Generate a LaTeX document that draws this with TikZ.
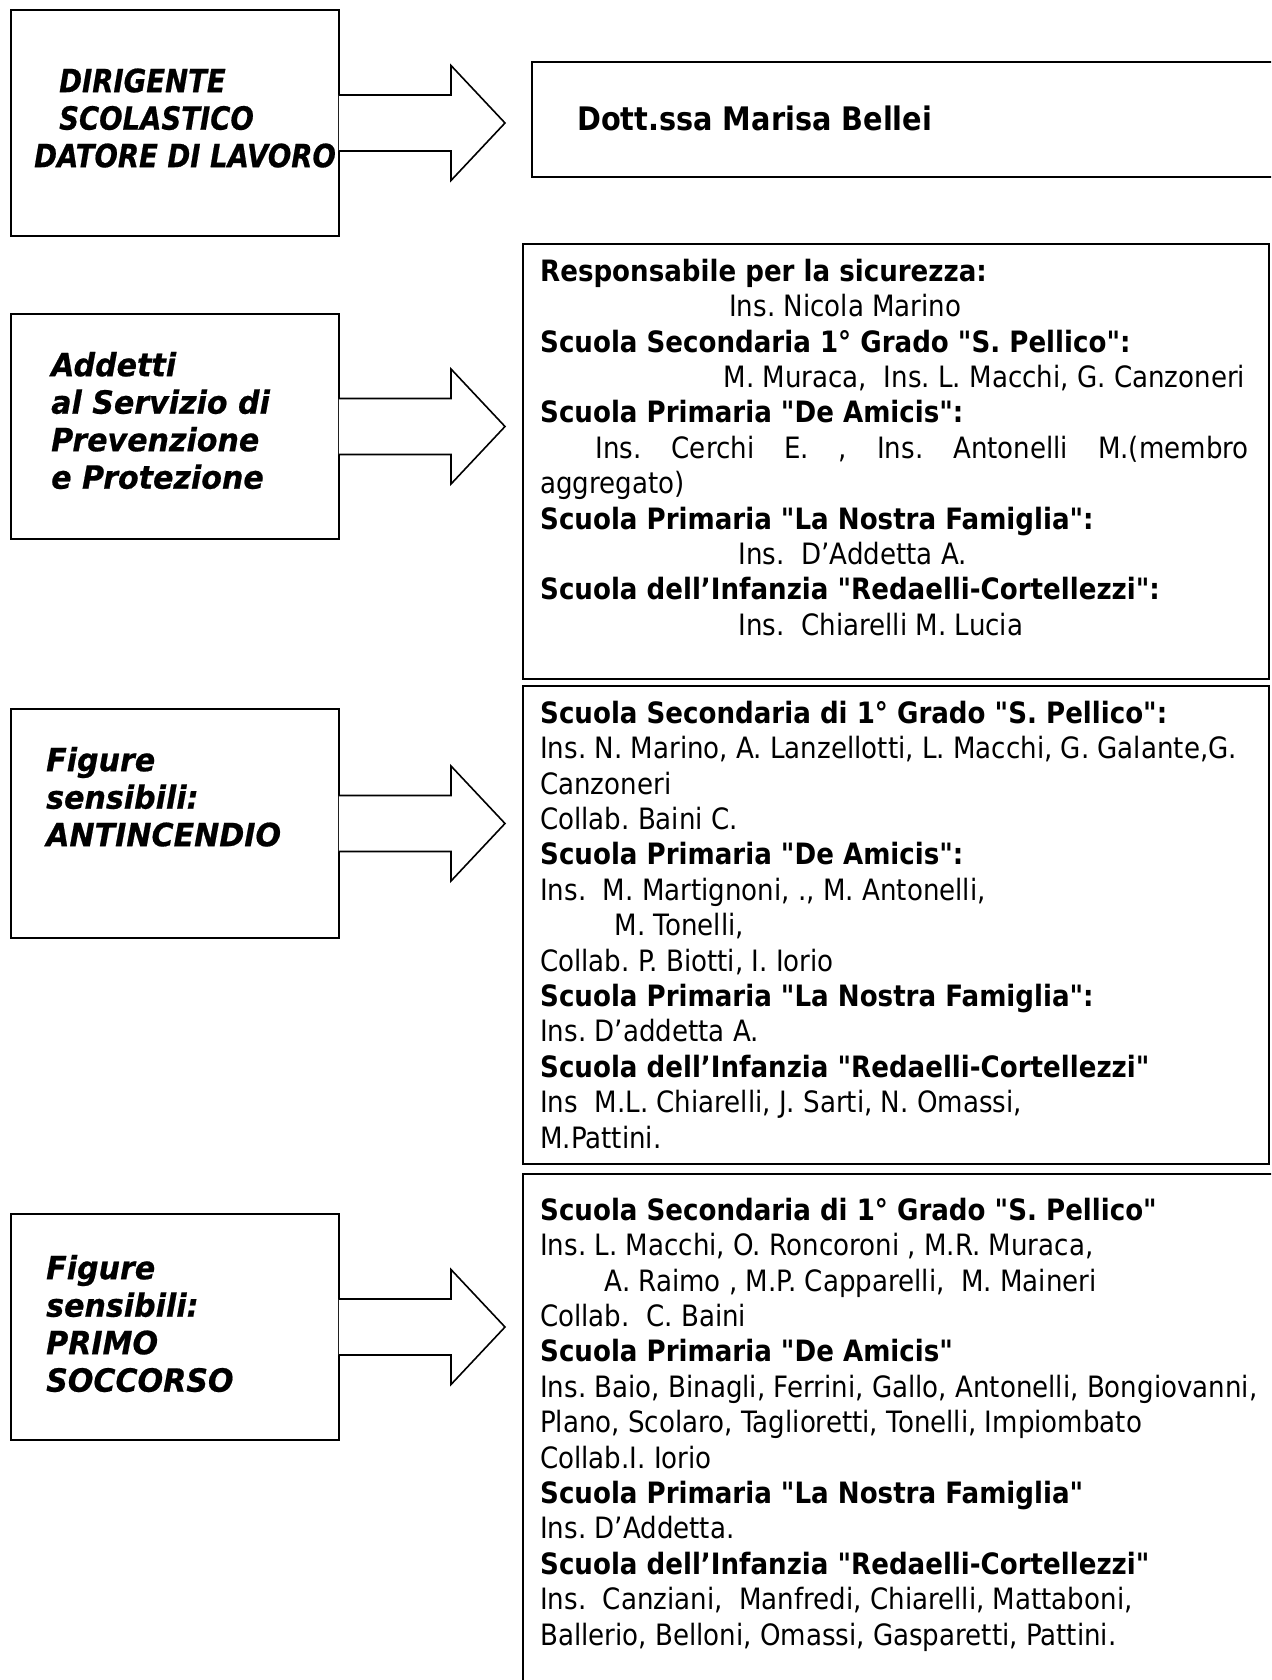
\documentclass[tikz,border=0pt]{standalone}
\usepackage{fontspec}
\setmainfont{DejaVu Sans}[FakeStretch=0.888, Ligatures=TeXOff]
\newfontfamily\leftfamA{DejaVu Sans}[FakeStretch=0.86, Ligatures=TeXOff, BoldItalicFeatures={FakeBold=0.6}]
\newfontfamily\leftfamB{DejaVu Sans}[FakeStretch=0.94, Ligatures=TeXOff, BoldItalicFeatures={FakeBold=0.6}]
\usetikzlibrary{calc}
\newcommand{\bodysize}{\fontsize{29.4pt}{35.4pt}\selectfont\frenchspacing}
\newcommand{\bigsizeA}{\leftfamA\fontsize{32pt}{37.5pt}\selectfont\bfseries\itshape}
\newcommand{\bigsizeB}{\leftfamB\fontsize{32pt}{37.5pt}\selectfont\bfseries\itshape}
\newcommand{\dottsize}{\fontsize{32.4pt}{38pt}\selectfont\bfseries}
\begin{document}
\begin{tikzpicture}[x=1pt,y=-1pt,
  frame/.style={draw, line width=2pt, rectangle, anchor=north west, inner sep=0pt},
  rframe/.style={frame, line width=2.4pt},
  blockarrow/.style={draw, line width=1.6pt, fill=white, line join=miter},
  lefttext/.style={anchor=north west, inner sep=0pt, align=left, font=\bigsizeB},
  bodytext/.style={anchor=north west, inner sep=0pt, align=left, font=\bodysize}]
\path[use as bounding box] (0,0) rectangle (1271,1680);
\fill[white] (0,0) rectangle (1271,1680);
\clip (0,0) rectangle (1271,1680);

% left boxes
\node[frame, minimum width=328pt, minimum height=226pt] (b1) at (10,9) {};
\node[frame, minimum width=328pt, minimum height=225pt] (b2) at (10,313) {};
\node[frame, minimum width=328pt, minimum height=229pt] (b3) at (10,708) {};
\node[frame, minimum width=328pt, minimum height=226pt] (b4) at (10,1213) {};

% right boxes
\node[rframe, minimum width=760pt, minimum height=115pt] (d) at (531,61) {};
\node[rframe, minimum width=746pt, minimum height=435pt] (r1) at (522,243) {};
\node[rframe, minimum width=746pt, minimum height=478pt] (r2) at (522,685) {};
\node[rframe, minimum width=780pt, minimum height=540pt] (r3) at (522,1173) {};

% block arrows
\foreach \b in {b1,b2,b3,b4}{
  \draw[blockarrow] ($(\b.east)+(-1.2,-28)$) -- ($(\b.east)+(111,-28)$)
    -- ($(\b.east)+(111,-57.5)$) -- ($(\b.east)+(165,0)$)
    -- ($(\b.east)+(111,57.5)$) -- ($(\b.east)+(111,28)$)
    -- ($(\b.east)+(-1.2,28)$);
}

% left texts
\node[lefttext, font=\bigsizeA] (t1) at (34,65) {\rule{0pt}{27pt}\hspace*{25pt}DIRIGENTE\\\hspace*{25pt}SCOLASTICO\\DATORE DI LAVORO};
\node[lefttext] (t2) at (51,349) {\rule{0pt}{27pt}Addetti\\al Servizio di\\Prevenzione\\e Protezione};
\node[lefttext] (t3) at (46,744) {\rule{0pt}{27pt}Figure\\sensibili:\\ANTINCENDIO};
\node[lefttext] (t4) at (46,1252) {\rule{0pt}{27pt}Figure\\sensibili:\\PRIMO\\SOCCORSO};

% right texts
\node[anchor=base west, inner sep=0pt, font=\dottsize] (dt) at (577,131) {Dott.ssa Marisa Bellei};

\node[bodytext] (s1) at (540,256) {\rule{0pt}{25pt}\textbf{Responsabile per la sicurezza:}\\
\hspace*{189pt}Ins. Nicola Marino\\
\textbf{Scuola Secondaria 1° Grado "S. Pellico":}\\
\hspace*{183.5pt}M. Muraca,\ \ Ins. L. Macchi, G. Canzoneri\\
\textbf{Scuola Primaria "De Amicis":}\\
\hspace*{55.5pt}\makebox[653pt][s]{Ins. Cerchi E. , Ins. Antonelli M.(membro}\\
aggregato)\\
\textbf{Scuola Primaria "La Nostra Famiglia":}\\
\hspace*{198.5pt}Ins.\ \ D’Addetta A.\\
\textbf{Scuola dell’Infanzia "Redaelli-Cortellezzi":}\\
\hspace*{198.5pt}Ins.\ \ Chiarelli M. Lucia};

\node[bodytext] (s2) at (540,698) {\rule{0pt}{25pt}\textbf{Scuola Secondaria di 1° Grado "S. Pellico":}\\
Ins. N. Marino, A. Lanzellotti, L. Macchi, G. Galante,G.\\
Canzoneri\\
Collab. Baini C.\\
\textbf{Scuola Primaria "De Amicis":}\\
Ins.\ \ M. Martignoni, ., M. Antonelli,\\
\hspace*{74.5pt}M. Tonelli,\\
Collab. P. Biotti, I. Iorio\\
\textbf{Scuola Primaria "La Nostra Famiglia":}\\
Ins. D’addetta A.\\
\textbf{Scuola dell’Infanzia "Redaelli-Cortellezzi"}\\
Ins\ \ M.L. Chiarelli, J. Sarti, N. Omassi,\\
M.Pattini.};

\node[bodytext] (s3) at (540,1195) {\rule{0pt}{25pt}\textbf{Scuola Secondaria di 1° Grado "S. Pellico"}\\
Ins. L. Macchi, O. Roncoroni , M.R. Muraca,\\
\hspace*{64.5pt}A. Raimo , M.P. Capparelli,\ \ M. Maineri\\
Collab.\ \ C. Baini\\
\textbf{Scuola Primaria "De Amicis"}\\
Ins. Baio, Binagli, Ferrini, Gallo, Antonelli, Bongiovanni,\\
Plano, Scolaro, Taglioretti, Tonelli, Impiombato\\
Collab.I. Iorio\\
\textbf{Scuola Primaria "La Nostra Famiglia"}\\
Ins. D’Addetta.\\
\textbf{Scuola dell’Infanzia "Redaelli-Cortellezzi"}\\
Ins.\ \ Canziani,\ \ Manfredi, Chiarelli, Mattaboni,\\
Ballerio, Belloni, Omassi, Gasparetti, Pattini.};
\end{tikzpicture}
\end{document}
